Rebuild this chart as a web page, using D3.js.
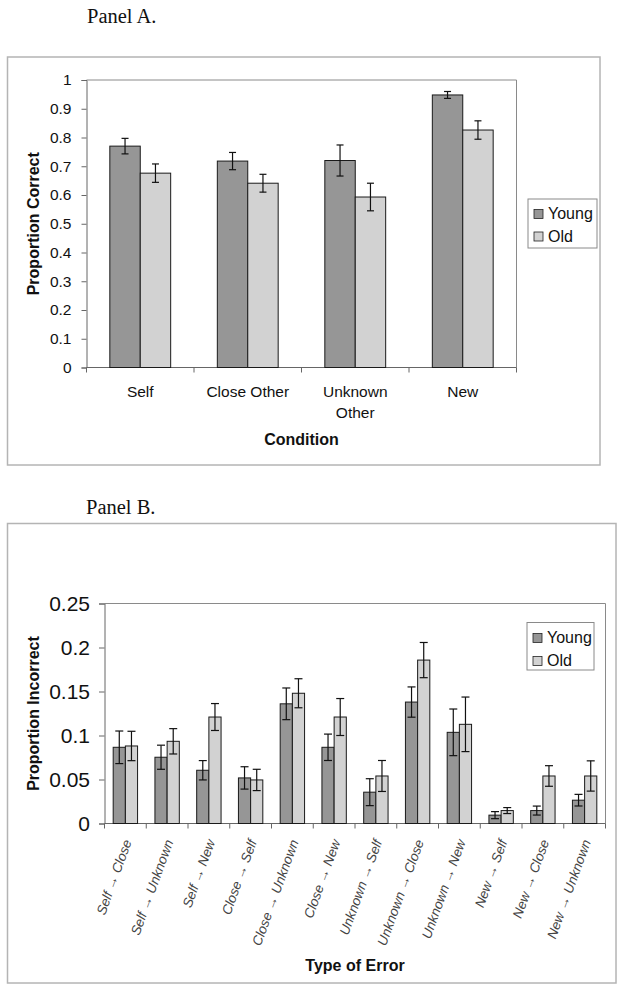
<!DOCTYPE html>
<html>
<head>
<meta charset="utf-8">
<script src="https://cdn.jsdelivr.net/npm/d3@7"></script>
<style>
  html, body { margin: 0; padding: 0; background: #fff; }
  svg { display: block; }
  text { font-family: Arial, "Liberation Sans", sans-serif; }
</style>
</head>
<body>
<svg id="chart" width="624" height="991"></svg>
<script>
// ---------- Data ----------
const seriesNames = ["Young", "Old"];

// Panel A
const catsA = ["Self", "Close Other", "Unknown Other", "New"];
const youngA = [0.770, 0.718, 0.720, 0.948];
const oldA = [0.676, 0.641, 0.593, 0.826];
const youngErrA = [0.027, 0.030, 0.054, 0.012];
const oldErrA = [0.032, 0.031, 0.048, 0.032];
const ticksA = [0, 0.1, 0.2, 0.3, 0.4, 0.5, 0.6, 0.7, 0.8, 0.9, 1];

// Panel B
const catsB = ["Self \u2192 Close", "Self \u2192 Unknown", "Self \u2192 New", "Close \u2192 Self",
  "Close \u2192 Unknown", "Close \u2192 New", "Unknown \u2192 Self", "Unknown \u2192 Close",
  "Unknown \u2192 New", "New \u2192 Self", "New \u2192 Close", "New \u2192 Unknown"];
const youngB = [0.0866, 0.0753, 0.0605, 0.0518, 0.136, 0.0866, 0.0356, 0.138, 0.1036, 0.0095, 0.0147, 0.0265];
const oldB = [0.0881, 0.0934, 0.121, 0.0495, 0.148, 0.121, 0.054, 0.1857, 0.1127, 0.0147, 0.054, 0.054];
const youngErrB = [0.0185, 0.0137, 0.0110, 0.0127, 0.0180, 0.0150, 0.0153, 0.0172, 0.0265, 0.0040, 0.0051, 0.0066];
const oldErrB = [0.0167, 0.0144, 0.0153, 0.0121, 0.0165, 0.0210, 0.0176, 0.0200, 0.0310, 0.0034, 0.0117, 0.0172];
const ticksB = [0, 0.05, 0.1, 0.15, 0.2, 0.25];

const colors = { Young: "#969696", Old: "#d2d2d2" };

const svg = d3.select("#chart");

function drawPanel(cfg) {
  const g = svg.append("g");
  // outer frame
  g.append("rect").attr("x", cfg.frame[0]).attr("y", cfg.frame[1])
    .attr("width", cfg.frame[2] - cfg.frame[0]).attr("height", cfg.frame[3] - cfg.frame[1])
    .attr("fill", "none").attr("stroke", "#b4b4b4").attr("stroke-width", 1.5);
  // panel title
  g.append("text").attr("x", cfg.titlePos[0]).attr("y", cfg.titlePos[1])
    .style("font-family", "'Liberation Serif', 'Times New Roman', serif")
    .attr("font-size", 20.5).attr("fill", "#111").text(cfg.title);

  const x = d3.scaleBand().domain(cfg.cats).range([cfg.left, cfg.right]).padding(0);
  const y = d3.scaleLinear().domain([0, cfg.max]).range([cfg.bottom, cfg.top]);

  // plot area border (top & right)
  g.append("path")
    .attr("d", `M${cfg.left},${cfg.top}H${cfg.right}V${cfg.bottom}`)
    .attr("fill", "none").attr("stroke", "#8a8a8a").attr("stroke-width", 1);

  // y axis
  const yAxis = d3.axisLeft(y).tickValues(cfg.ticks).tickSize(cfg.tickLen).tickPadding(cfg.tickPad)
    .tickFormat(d => d3.format("")(+d.toFixed(2)));
  const ya = g.append("g").attr("transform", `translate(${cfg.left},0)`).call(yAxis);
  ya.select(".domain").attr("stroke", "#666");
  ya.selectAll(".tick line").attr("stroke", "#666");
  ya.selectAll(".tick text").attr("font-size", cfg.yFont).attr("fill", "#111")
    .style("font-family", "Arial, 'Liberation Sans', sans-serif");

  // x axis (ticks at category boundaries)
  const bounds = cfg.cats.map(c => x(c)).concat([cfg.right]);
  g.append("line").attr("x1", cfg.left).attr("x2", cfg.right)
    .attr("y1", cfg.bottom).attr("y2", cfg.bottom).attr("stroke", "#666");
  g.selectAll(".xt").data(bounds).join("line")
    .attr("x1", d => d).attr("x2", d => d)
    .attr("y1", cfg.bottom).attr("y2", cfg.bottom + 5).attr("stroke", "#666");

  const bw = x.bandwidth() * cfg.groupRatio / 2;
  const series = [
    { name: "Young", vals: cfg.young, errs: cfg.youngErr, off: -bw },
    { name: "Old", vals: cfg.old, errs: cfg.oldErr, off: 0 }
  ];
  series.forEach(s => {
    const cx = (c) => x(c) + x.bandwidth() / 2;
    g.selectAll(null).data(cfg.cats).join("rect")
      .attr("x", c => cx(c) + s.off)
      .attr("y", (c, i) => y(s.vals[i]))
      .attr("width", bw)
      .attr("height", (c, i) => y(0) - y(s.vals[i]))
      .attr("fill", colors[s.name]).attr("stroke", "#1a1a1a").attr("stroke-width", 1);
    // error bars
    const eg = g.selectAll(null).data(cfg.cats).join("g");
    eg.append("line")
      .attr("x1", c => cx(c) + s.off + bw / 2).attr("x2", c => cx(c) + s.off + bw / 2)
      .attr("y1", (c, i) => y(s.vals[i] + s.errs[i])).attr("y2", (c, i) => y(s.vals[i] - s.errs[i]))
      .attr("stroke", "#111").attr("stroke-width", 1.2);
    [1, -1].forEach(sign => {
      eg.append("line")
        .attr("x1", c => cx(c) + s.off + bw / 2 - cfg.cap).attr("x2", c => cx(c) + s.off + bw / 2 + cfg.cap)
        .attr("y1", (c, i) => y(s.vals[i] + sign * s.errs[i])).attr("y2", (c, i) => y(s.vals[i] + sign * s.errs[i]))
        .attr("stroke", "#111").attr("stroke-width", 1.2);
    });
  });

  // legend
  const L = cfg.legend;
  g.append("rect").attr("x", L.x).attr("y", L.y).attr("width", L.w).attr("height", L.h)
    .attr("fill", "#fff").attr("stroke", "#8a8a8a").attr("stroke-width", 1);
  seriesNames.forEach((n, i) => {
    const yy = L.y + L.first + i * L.step;
    g.append("rect").attr("x", L.x + 6).attr("y", yy - 9.5).attr("width", 9).attr("height", 9)
      .attr("fill", colors[n]).attr("stroke", "#222").attr("stroke-width", 0.8);
    g.append("text").attr("x", L.x + 20).attr("y", yy).attr("font-size", 16)
      .attr("fill", "#111").text(n);
  });

  // y title
  g.append("text")
    .attr("transform", `translate(${cfg.yTitleX},${(cfg.top + cfg.bottom) / 2}) rotate(-90)`)
    .attr("text-anchor", "middle").attr("font-size", 16).attr("font-weight", "bold")
    .attr("fill", "#111").text(cfg.yTitle);
  // x title
  g.append("text").attr("x", (cfg.left + cfg.right) / 2).attr("y", cfg.xTitleY)
    .attr("text-anchor", "middle").attr("font-size", 16).attr("font-weight", "bold")
    .attr("fill", "#111").text(cfg.xTitle);

  return { g, x, y };
}

// ---------- Panel A ----------
const A = drawPanel({
  frame: [7.5, 57, 600, 465], title: "Panel A.", titlePos: [87, 23],
  cats: catsA, young: youngA, old: oldA, youngErr: youngErrA, oldErr: oldErrA,
  left: 86.5, right: 516.5, top: 80, bottom: 367.5, max: 1, ticks: ticksA,
  tickLen: 5, tickPad: 10, yFont: 15.5, groupRatio: 0.566, cap: 3.5,
  legend: { x: 528, y: 199, w: 69, h: 49, first: 20, step: 22.5 },
  yTitle: "Proportion Correct", yTitleX: 39, xTitle: "Condition", xTitleY: 445
});
catsA.forEach(c => {
  const words = c === "Unknown Other" ? ["Unknown", "Other"] : [c];
  words.forEach((w, i) => {
    A.g.append("text").attr("x", A.x(c) + A.x.bandwidth() / 2).attr("y", 396.5 + i * 21)
      .attr("text-anchor", "middle").attr("font-size", 15.5).attr("fill", "#111").text(w);
  });
});

// ---------- Panel B ----------
const B = drawPanel({
  frame: [7.5, 523.5, 616, 983], title: "Panel B.", titlePos: [86, 514],
  cats: catsB, young: youngB, old: oldB, youngErr: youngErrB, oldErr: oldErrB,
  left: 104.5, right: 605.5, top: 603.5, bottom: 823.5, max: 0.25, ticks: ticksB,
  tickLen: 5.5, tickPad: 9, yFont: 21, groupRatio: 0.584, cap: 4,
  legend: { x: 527, y: 622.5, w: 67, h: 47.5, first: 20.5, step: 23 },
  yTitle: "Proportion Incorrect", yTitleX: 39, xTitle: "Type of Error", xTitleY: 971
});
B.g.selectAll(".xl").data(catsB).join("text")
  .attr("transform", c => `translate(${B.x(c) + B.x.bandwidth() / 2 + 2},${840}) rotate(-70)`)
  .attr("text-anchor", "end").attr("dy", "0.35em")
  .attr("font-size", 13.5).attr("fill", "#444").attr("font-style", "italic").text(c => c);
</script>
</body>
</html>
